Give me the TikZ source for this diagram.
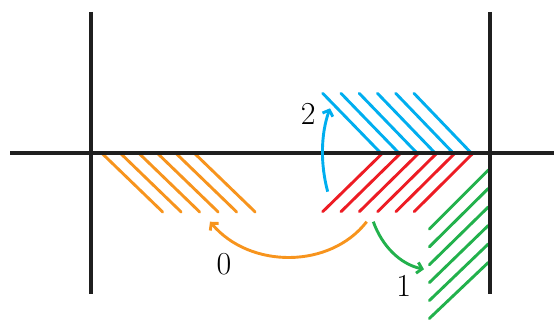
\documentclass[tikz,border=0pt]{standalone}
\usetikzlibrary{arrows.meta}
\definecolor{cOrange}{RGB}{247,148,29}
\definecolor{cBlue}{RGB}{0,174,239}
\definecolor{cRed}{RGB}{237,28,36}
\definecolor{cGreen}{RGB}{34,177,76}
\tikzset{
  axis/.style={line width=3.2pt,draw=black!88},
  hatch/.style={line width=2.9pt,line cap=round},
  move/.style={line width=2.9pt,-{Straight Barb[length=5pt,width=11pt]}},
  lbl/.style={font=\fontsize{32}{36}\selectfont,inner sep=0pt}
}
\begin{document}
\begin{tikzpicture}[x=1pt,y=-1pt]
\useasboundingbox (0,0) rectangle (554,320);
% axes
\coordinate (hL) at (10,153);
\coordinate (hR) at (554,153);
\coordinate (v1t) at (91,12);
\coordinate (v1b) at (91,294);
\coordinate (v2t) at (490,12);
\coordinate (v2b) at (490,294);
% orange hatch
\foreach \i in {0,...,5}{
  \draw[hatch,cOrange] (102.7+18.5*\i,154) -- (162.7+18.5*\i,212);
}
% blue hatch
\foreach \i in {0,...,5}{
  \draw[hatch,cBlue] (322.7+18.25*\i,93.3) -- (381.7+18.1*\i,154);
}
% red hatch
\foreach \i in {0,...,5}{
  \draw[hatch,cRed] (381.7+18.1*\i,154) -- (322.7+18.3*\i,211.7);
}
% green hatch
\foreach \i in {0,...,5}{
  \draw[hatch,cGreen] (488.3,170+18.5*\i) -- (429.3,229+17.9*\i);
}
\draw[axis] (hL) -- (hR);
\draw[axis] (v1t) -- (v1b);
\draw[axis] (v2t) -- (v2b);
% arrows
\coordinate (b0) at (327.7,191.7);
\coordinate (b1) at (330,108.3);
\draw[move,cBlue] (b0) .. controls (320.5,165) and (320.5,135) .. (b1);
\coordinate (o0) at (366.7,221.7);
\coordinate (o1) at (210,221.7);
\draw[move,cOrange] (o0) .. controls (330,269) and (250,269) .. (o1);
\coordinate (g0) at (373.3,221.7);
\coordinate (g1) at (424,269.3);
\draw[move,cGreen] (g0) .. controls (382,246) and (400,264) .. (g1);
% labels
\node[lbl] (l2) at (308.3,114) {2};
\node[lbl] (l0) at (224,264.5) {0};
\node[lbl] (l1) at (403.7,286) {1};
\end{tikzpicture}
\end{document}
